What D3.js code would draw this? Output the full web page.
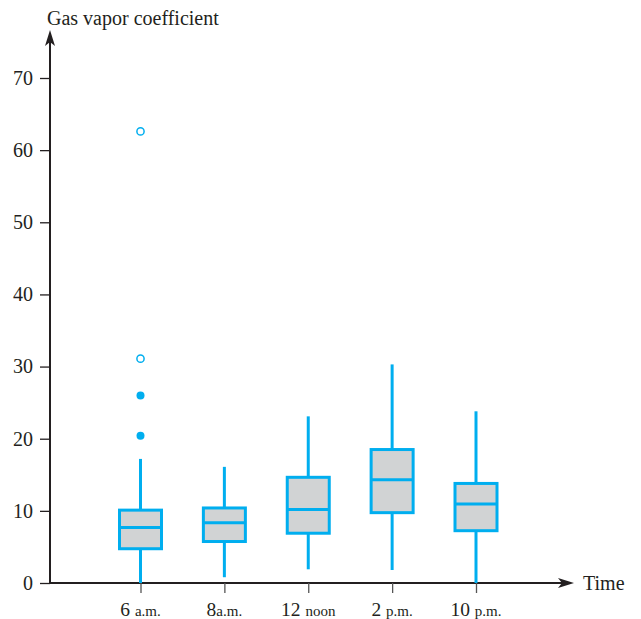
<!DOCTYPE html>
<html><head><meta charset="utf-8">
<script src="https://cdn.jsdelivr.net/npm/d3@7"></script>
<style>body{margin:0;background:#fff}svg{display:block}text{font-family:"Liberation Serif","DejaVu Serif",serif;fill:#231F20}</style>
</head><body><svg id="c" width="641" height="619"></svg>
<script>
const categories = ["6", "8", "12", "2", "10"];
const suffixes = ["a.m.", "a.m.", "noon", "p.m.", "p.m."];
const whiskerLow = [0, 0.8, 1.9, 1.8, 0];
const q1 = [4.75, 5.75, 6.9, 9.75, 7.25];
const median = [7.7, 8.35, 10.2, 14.3, 10.95];
const q3 = [10.1, 10.4, 14.65, 18.5, 13.8];
const whiskerHigh = [17.2, 16.1, 23.1, 30.3, 23.8];
const outlierCat = ["6", "6", "6", "6"];
const outlierVal = [62.6, 31.1, 26.0, 20.4];
const outlierType = ["extreme", "extreme", "mild", "mild"];
const yTicks = [0, 10, 20, 30, 40, 50, 60, 70];

const blue = "#00AEEF", gray = "#D1D3D4", ink = "#231F20";
const svg = d3.select("#c");
const x = d3.scalePoint().domain(categories).range([140.5, 476]);
const y = d3.scaleLinear().domain([0, 70]).range([583, 78]);
const x0 = 50, y0 = 583;

// axes lines with arrows
svg.append("line").attr("x1", x0).attr("x2", x0).attr("y1", y0 + 1).attr("y2", 40).attr("stroke", ink).attr("stroke-width", 2);
svg.append("line").attr("x1", x0 - 1).attr("x2", 562).attr("y1", y0).attr("y2", y0).attr("stroke", ink).attr("stroke-width", 2);
svg.append("path").attr("d", `M${x0},30 L${x0+5},46 L${x0},42 L${x0-5},46 Z`).attr("fill", ink);
svg.append("path").attr("d", `M574,${y0} L558,${y0-5} L562,${y0} L558,${y0+5} Z`).attr("fill", ink);

// y axis ticks
const yAxis = svg.append("g").attr("transform", `translate(${x0},0)`)
  .call(d3.axisLeft(y).tickValues(yTicks).tickSize(10).tickPadding(7).tickFormat(d3.format("d")));
yAxis.select(".domain").remove();
yAxis.selectAll("line").attr("stroke", ink).attr("stroke-width", 1.3);
yAxis.selectAll("text").attr("font-size", 20).attr("font-family", "Liberation Serif").attr("fill", ink);

// x axis ticks
const xAxis = svg.append("g").attr("transform", `translate(0,${y0})`)
  .call(d3.axisBottom(x).tickSize(10).tickFormat(""));
xAxis.select(".domain").remove();
xAxis.selectAll("line").attr("stroke", "#555").attr("stroke-width", 1.3);

// x labels with small suffix
categories.forEach((c, i) => {
  const t = svg.append("text").attr("x", x(c)).attr("y", 615.5).attr("text-anchor", "middle");
  t.append("tspan").attr("font-size", 19.5).text(c + (i === 1 ? "" : " "));
  t.append("tspan").attr("font-size", 15).text(suffixes[i]);
});

// boxes
const bw = 42;
const g = svg.append("g");
categories.forEach((c, i) => {
  const cx = x(c);
  g.append("line").attr("x1", cx).attr("x2", cx).attr("y1", y(whiskerHigh[i])).attr("y2", y(q3[i]))
    .attr("stroke", blue).attr("stroke-width", 3);
  g.append("line").attr("x1", cx).attr("x2", cx).attr("y1", y(q1[i])).attr("y2", y(whiskerLow[i]))
    .attr("stroke", blue).attr("stroke-width", 3);
  g.append("rect").attr("x", cx - bw / 2).attr("width", bw).attr("y", y(q3[i])).attr("height", y(q1[i]) - y(q3[i]))
    .attr("fill", gray).attr("stroke", blue).attr("stroke-width", 3);
  g.append("line").attr("x1", cx - bw / 2).attr("x2", cx + bw / 2).attr("y1", y(median[i])).attr("y2", y(median[i]))
    .attr("stroke", blue).attr("stroke-width", 3);
});

// outliers
outlierVal.forEach((v, i) => {
  const ext = outlierType[i] === "extreme";
  g.append("circle").attr("cx", x(outlierCat[i])).attr("cy", y(v)).attr("r", ext ? 3.6 : 4)
    .attr("fill", ext ? "#fff" : blue).attr("stroke", blue).attr("stroke-width", ext ? 1.5 : 0);
});

// titles
svg.append("text").attr("x", 47).attr("y", 25).attr("font-size", 20).text("Gas vapor coefficient");
svg.append("text").attr("x", 583).attr("y", 589.5).attr("font-size", 20).text("Time");
</script></body></html>
